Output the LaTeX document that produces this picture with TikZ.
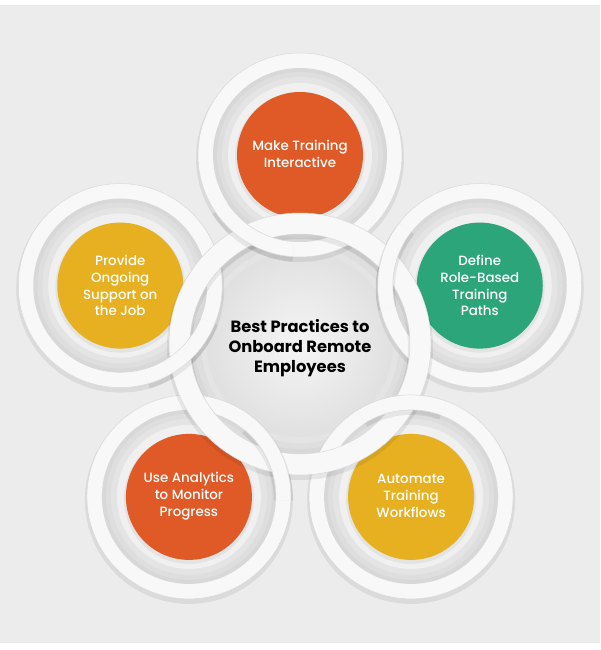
\documentclass[tikz,border=0pt]{standalone}
\usepackage{fontspec}
\setmainfont{Poppins}
\newfontfamily\popmed{Poppins Medium}
\usetikzlibrary{calc}
\definecolor{bg}{HTML}{ECECEC}
\definecolor{bandc}{HTML}{F8F8F8}
\definecolor{edgec}{HTML}{D9D9D9}
\definecolor{gapa}{HTML}{D8D8D8}
\definecolor{gapb}{HTML}{DEDEDE}
\definecolor{gapd}{HTML}{E4E4E4}
\definecolor{innerr}{HTML}{F0F0F0}
\definecolor{corange}{HTML}{DF5A26}
\definecolor{cyellow}{HTML}{E7B021}
\definecolor{cgreen}{HTML}{2DA57A}
\begin{document}
\begin{tikzpicture}[x=1pt,y=-1pt,
  txt/.style={text=white,align=center,font=\popmed\fontsize{13.4}{16.8}\selectfont,inner sep=0pt},
  ctxt/.style={text=black,align=center,font=\fontsize{16.3}{20}\selectfont\bfseries,inner sep=0pt},
  bandstyle/.style={fill=bandc,draw=edgec,line width=0.5pt,even odd rule},
  shadowstyle/.style={fill=black,fill opacity=0.07,even odd rule}]
\useasboundingbox (0,0) rectangle (600,650);
\fill[white] (0,0) rectangle (600,650);
\fill[bg] (0,5) rectangle (600,643);
\coordinate (C0) at (300,344);
% central interior
\fill[gapa] (C0) circle (111);
\fill[gapb] (C0) circle (105);
\fill[gapd] (C0) circle (99);
\shade[inner color=white!96!black, outer color=white!88!black] (C0) circle (93);
% outer rings
\foreach \a/\c/\n in {-90/corange/rtop,-18/cgreen/rright,54/cyellow/rbr,126/corange/rbl,198/cyellow/rleft}{
  \coordinate (\n) at ($(C0)+(\a:189)$);
  \fill[black,fill opacity=0.07] ($(\n)+(0,3)$) circle (104);
  \fill[bandc,draw=edgec,line width=0.5pt] (\n) circle (102);
  \fill[gapa] (\n) circle (87);
  \fill[gapb] (\n) circle (83);
  \fill[gapd] (\n) circle (78);
  \fill[innerr] (\n) circle (72);
  \fill[black,fill opacity=0.05] ($(\n)+(0,2)$) circle (65);
  \fill[\c] (\n) circle (63);
}
% central band
\fill[shadowstyle] ($(C0)+(0,3)$) circle (133) ($(C0)+(0,3)$) circle (108);
\fill[bandstyle] (C0) circle (131) (C0) circle (110);
% weave: outer rings passing over the central band
\foreach \a/\n in {-90/rtop,-18/rright,54/rbr,126/rbl,198/rleft}{
  \begin{scope}
    \clip (\n) -- ($(\n)+({\a-176}:150)$) -- ($(\n)+({\a-150}:170)$) -- ($(\n)+({\a-124}:150)$) -- cycle;
    \fill[shadowstyle] ($(\n)+(0,3)$) circle (104) ($(\n)+(0,3)$) circle (85);
    \fill[bandstyle] (\n) circle (102) (\n) circle (87);
  \end{scope}
}
% texts
\node[txt] (ttop) at (300,154) {Make Training\\Interactive};
\node[txt] (tright) at (rright) {Define\\Role-Based\\Training\\Paths};
\node[txt] (tbr) at ($(rbr)+(0,-1)$) {Automate\\Training\\Workflows};
\node[txt] (tbl) at ($(rbl)+(0,-1)$) {Use Analytics\\to Monitor\\Progress};
\node[txt] (tleft) at (rleft) {Provide\\Ongoing\\Support on\\the Job};
\node[ctxt] (title) at (300,348) {Best Practices to\\Onboard Remote\\Employees};
\end{tikzpicture}
\end{document}
